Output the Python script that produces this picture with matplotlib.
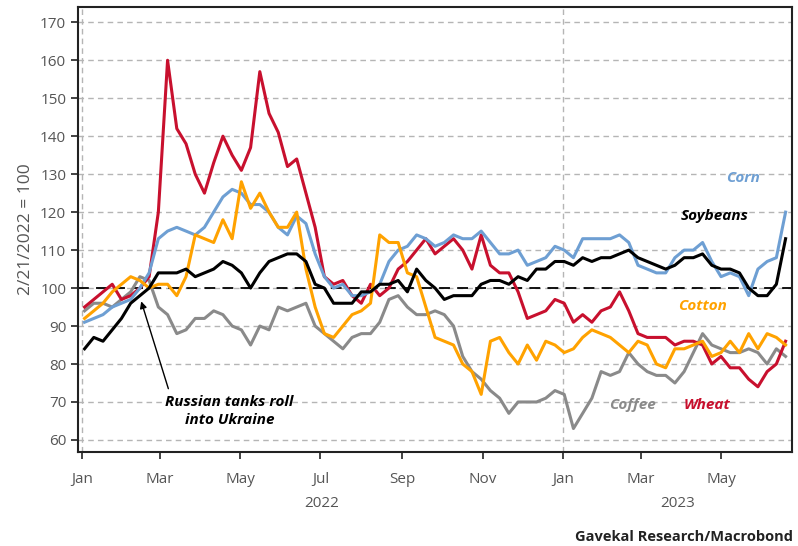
import pandas as pd
import matplotlib
matplotlib.use("Agg")
import matplotlib.pyplot as plt
import matplotlib.dates as mdates

plt.rcParams['font.family'] = ['Open Sans', 'DejaVu Sans']

# weekly readings, 2/21/2022 = 100
dates = pd.date_range('2022-01-03', periods=77, freq='W-MON')

corn = [91, 92, 93, 95, 96, 97, 100, 104, 113, 115, 116, 115, 114,
        116, 120, 124, 126, 125, 122, 122, 120, 116, 114, 119, 117, 109,
        103, 100, 101, 98, 98, 99, 101, 107, 110, 111, 114, 113, 111,
        112, 114, 113, 113, 115, 112, 109, 109, 110, 106, 107, 108, 111,
        110, 108, 113, 113, 113, 113, 114, 112, 106, 105, 104, 104, 108,
        110, 110, 112, 107, 103, 104, 103, 98, 105, 107, 108, 120]

soybeans = [84, 87, 86, 89, 92, 96, 98, 100, 104, 104, 104, 105, 103,
            104, 105, 107, 106, 104, 100, 104, 107, 108, 109, 109, 107, 101,
            100, 96, 96, 96, 99, 99, 101, 101, 102, 99, 105, 102, 100,
            97, 98, 98, 98, 101, 102, 102, 101, 103, 102, 105, 105, 107,
            107, 106, 108, 107, 108, 108, 109, 110, 108, 107, 106, 105, 106,
            108, 108, 109, 106, 105, 105, 104, 100, 98, 98, 101, 113]

cotton = [92, 94, 96, 99, 101, 103, 102, 100, 101, 101, 98, 103, 114,
          113, 112, 118, 113, 128, 121, 125, 120, 116, 116, 120, 105, 95,
          88, 87, 90, 93, 94, 96, 114, 112, 112, 104, 103, 95, 87,
          86, 85, 80, 78, 72, 86, 87, 83, 80, 85, 81, 86, 85,
          83, 84, 87, 89, 88, 87, 85, 83, 86, 85, 80, 79, 84,
          84, 85, 86, 82, 83, 86, 83, 88, 84, 88, 87, 85]

coffee = [94, 96, 96, 95, 97, 99, 103, 102, 95, 93, 88, 89, 92,
          92, 94, 93, 90, 89, 85, 90, 89, 95, 94, 95, 96, 90,
          88, 86, 84, 87, 88, 88, 91, 97, 98, 95, 93, 93, 94,
          93, 90, 82, 78, 76, 73, 71, 67, 70, 70, 70, 71, 73,
          72, 63, 67, 71, 78, 77, 78, 83, 80, 78, 77, 77, 75,
          78, 83, 88, 85, 84, 83, 83, 84, 83, 80, 84, 82]

wheat = [95, 97, 99, 101, 97, 98, 100, 103, 120, 160, 142, 138, 130,
         125, 133, 140, 135, 131, 137, 157, 146, 141, 132, 134, 125, 116,
         103, 101, 102, 98, 96, 101, 98, 100, 105, 107, 110, 113, 109,
         111, 113, 110, 105, 114, 106, 104, 104, 99, 92, 93, 94, 97,
         96, 91, 93, 91, 94, 95, 99, 94, 88, 87, 87, 87, 85,
         86, 86, 85, 80, 82, 79, 79, 76, 74, 78, 80, 86]

series = [
    ('Coffee', coffee, '#8a8a8a'),
    ('Wheat', wheat, '#c8102e'),
    ('Corn', corn, '#6e9fd3'),
    ('Cotton', cotton, '#ffa200'),
    ('Soybeans', soybeans, '#000000'),
]

fig = plt.figure(figsize=(7.98, 5.46), dpi=100)
ax = fig.add_axes([0.0977, 0.172, 0.895, 0.815])

for name, vals, col in series:
    ax.plot(dates, vals, color=col, lw=2.2, zorder=3)

ax.set_xlim(pd.Timestamp('2021-12-29'), pd.Timestamp('2023-06-24'))
ax.set_ylim(56.8, 174)
ax.set_yticks(range(60, 171, 10))

ax.grid(axis='y', color='#b5b5b5', ls=(0, (4, 3)), lw=1)
for d in ['2022-01-01', '2023-01-01']:
    ax.axvline(pd.Timestamp(d), color='#b5b5b5', ls=(0, (4, 3)), lw=1, zorder=1)
ax.axhline(100, color='black', ls=(0, (6, 4)), lw=1.3, zorder=2)

ax.xaxis.set_major_locator(mdates.MonthLocator(bymonth=[1, 3, 5, 7, 9, 11]))
ax.xaxis.set_major_formatter(mdates.DateFormatter('%b'))
ax.tick_params(axis='both', labelsize=11, labelcolor='#555555', color='#222222',
               length=5, width=1.2, direction='out')
ax.tick_params(axis='x', pad=9)
for s in ax.spines.values():
    s.set_color('#222222')
    s.set_linewidth(1.5)

ax.set_ylabel('2/21/2022 = 100', fontsize=12.5, color='#555555', labelpad=4)

tr = ax.get_xaxis_transform()
ax.text(pd.Timestamp('2022-07-02'), -0.115, '2022', transform=tr,
        ha='center', va='center', fontsize=11, color='#555555')
ax.text(pd.Timestamp('2023-03-29'), -0.115, '2023', transform=tr,
        ha='center', va='center', fontsize=11, color='#555555')

lab = dict(fontsize=11, fontweight='bold', style='italic', ha='center', va='center')
ax.text(pd.Timestamp('2023-05-18'), 128.9, 'Corn', color='#6e9fd3', **lab)
ax.text(pd.Timestamp('2023-04-26'), 118.9, 'Soybeans', color='black', **lab)
ax.text(pd.Timestamp('2023-04-17'), 95.3, 'Cotton', color='#ffa200', **lab)
ax.text(pd.Timestamp('2023-02-23'), 69.2, 'Coffee', color='#8a8a8a', **lab)
ax.text(pd.Timestamp('2023-04-20'), 69.2, 'Wheat', color='#c8102e', **lab)

ax.annotate('Russian tanks roll\ninto Ukraine',
            xy=(pd.Timestamp('2022-02-15'), 96.5),
            xytext=(pd.Timestamp('2022-04-23'), 67.6),
            ha='center', va='center', fontsize=11, fontweight='bold',
            style='italic', color='black', linespacing=1.3,
            arrowprops=dict(arrowstyle='-|>', color='black', lw=1,
                            mutation_scale=10, relpos=(0.04, 1.0), shrinkA=3, shrinkB=0))

fig.text(0.994, 0.016, 'Gavekal Research/Macrobond', ha='right', va='center',
         fontsize=10.5, fontweight='bold', color='#222222')

fig.savefig('out.png', dpi=100)
